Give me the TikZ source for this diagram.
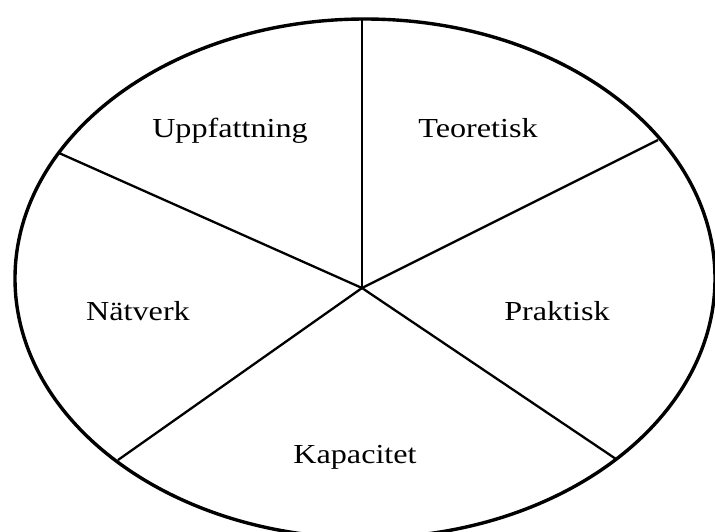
\documentclass[tikz,border=0pt]{standalone}
\usepackage{fontspec}
\setmainfont{Liberation Serif}
\begin{document}
\begin{tikzpicture}[x=1pt,y=-1pt,
  rim/.style={line width=3.4pt},
  spoke/.style={line width=2.3pt},
  lbl/.style={anchor=base,inner sep=0pt,font=\fontsize{27.5}{32}\selectfont}]
\useasboundingbox (0,0) rectangle (715,531);
\begin{scope}
\clip (0,0) rectangle (715,531);
\draw[rim] (365,278.5) ellipse [x radius=350, y radius=259.5];
\end{scope}
\coordinate (hub) at (362,288);
\coordinate (top) at (362,19);
\coordinate (ur) at (658,140);
\coordinate (lr) at (616,459);
\coordinate (ll) at (118,460);
\coordinate (ul) at (59,153);
\draw[spoke] (hub) -- (top);
\draw[spoke] (hub) -- (ur);
\draw[spoke] (hub) -- (lr);
\draw[spoke] (hub) -- (ll);
\draw[spoke] (hub) -- (ul);
\node[lbl] (upp) at (230,137) {\scalebox{1.17}[1]{Uppfattning}};
\node[lbl] (teo) at (478,137) {\scalebox{1.17}[1]{Teoretisk}};
\node[lbl] (nat) at (138,320) {\scalebox{1.17}[1]{Nätverk}};
\node[lbl] (pra) at (557,320) {\scalebox{1.17}[1]{Praktisk}};
\node[lbl] (kap) at (355,463) {\scalebox{1.17}[1]{Kapacitet}};
\end{tikzpicture}
\end{document}
